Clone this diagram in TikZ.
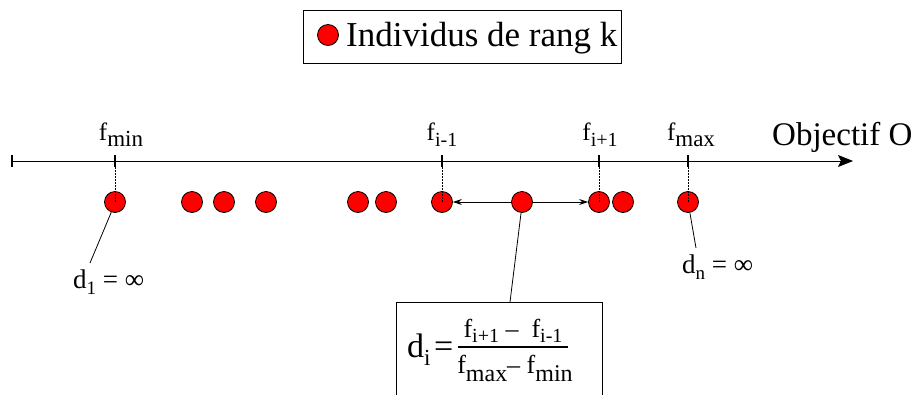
\documentclass[tikz,border=0pt]{standalone}
\usepackage{fontspec}
\setmainfont{Liberation Serif}
\usetikzlibrary{arrows.meta}
\newcommand\sbs[3][20]{\raisebox{-#2pt}{\fontsize{#1}{#1}\selectfont #3}}
\newcommand\fs[1]{\fontsize{#1}{#1}\selectfont}
\begin{document}
\begin{tikzpicture}[x=1pt,y=-1pt,
  dot/.style={circle,draw=black,line width=0.8pt,fill=red,minimum size=21pt,inner sep=0pt},
  tick/.style={line width=1.8pt},
  guide/.style={dash pattern=on 1.5pt off 1.5pt,line width=1pt},
  lab/.style={inner sep=0pt,anchor=base,font=\fs{25}},
  thinl/.style={line width=0.8pt}]
\useasboundingbox (0,0) rectangle (921,394);
\clip (0,0) rectangle (921,394);
% legend
\node[draw,line width=1pt,minimum width=318pt,minimum height=53pt,inner sep=0pt] (legend) at (462,36.5) {};
\node[dot] (ldot) at (328,35) {};
\node[inner sep=0pt,anchor=base west,font=\fs{35}] (ltext) at (346,46) {Individus de rang k};
% axis
\coordinate (a0) at (12,161);
\coordinate (a1) at (853,161);
\draw[line width=1pt,-{Stealth[length=15pt,width=12pt,inset=3pt]}] (a0) -- (a1);
\draw[tick] (12,155) -- (12,167);
\node[inner sep=0pt,anchor=base west,font=\fs{33}] (obj) at (772,145) {Objectif O};
% dots
\foreach \n/\x in {p1/115,p2/192,p3/224,p4/266,p5/358,p6/386,p7/442,p8/522,p9/599,p10/623,p11/688}
  \node[dot] (\n) at (\x,202) {};
% ticks and guides
\foreach \n/\x in {p1/115,p7/442,p9/599,p11/688}{
  \draw[tick] (\x,155) -- (\x,167);
  \draw[guide] (\x,167) -- (\n.center);
}
\node[lab] (lmin) at (121,140) {f\sbs[23]{6}{min}};
\node[lab] (lim) at (442,140) {f\sbs{6}{i-1}};
\node[lab] (lip) at (600,140) {f\sbs{6}{i+1}};
\node[lab] (lmax) at (691,140) {f\sbs[23]{6}{max}};
% arrows from middle dot
\draw[thinl,-{Stealth[length=9pt,width=6pt]}] (p8) -- (p7);
\draw[thinl,-{Stealth[length=9pt,width=6pt]}] (p8) -- (p9);
% d1
\node[inner sep=0pt,anchor=base west,font=\fs{27}] (d1) at (73,288) {d\sbs[19]{6}{1} = ∞};
\coordinate (d1top) at (90,263);
\draw[thinl] (p1.250) -- (d1top);
% dn
\node[inner sep=0pt,anchor=base west,font=\fs{27}] (dn) at (682,273) {d\sbs[19]{6}{n} = ∞};
\coordinate (dntop) at (696,248);
\draw[thinl] (p11.-80) -- (dntop);
% formula box
\node[draw,line width=1pt,minimum width=206pt,minimum height=120pt,inner sep=0pt,anchor=north west] (fbox) at (396,302) {};
\coordinate (ftop) at (510,302);
\draw[thinl] (p8.-95) -- (ftop);
\node[inner sep=0pt,anchor=base west,font=\fs{34}] (fd) at (407,357) {d\sbs[23]{8}{i}};
\node[inner sep=0pt,anchor=base west,font=\fs{34}] (feq) at (434,357) {=};
\node[inner sep=0pt,anchor=base,font=\fs{26}] (fnum) at (513,337) {f\sbs[20]{5}{i+1}\ –\ \ f\sbs[20]{5}{i-1}};
\draw[line width=1.3pt] (458,347) -- (568,347);
\node[inner sep=0pt,anchor=base,font=\fs{26}] (fden) at (515,373) {f\sbs[24]{8}{max}– f\sbs[24]{8}{min}};
\end{tikzpicture}
\end{document}
